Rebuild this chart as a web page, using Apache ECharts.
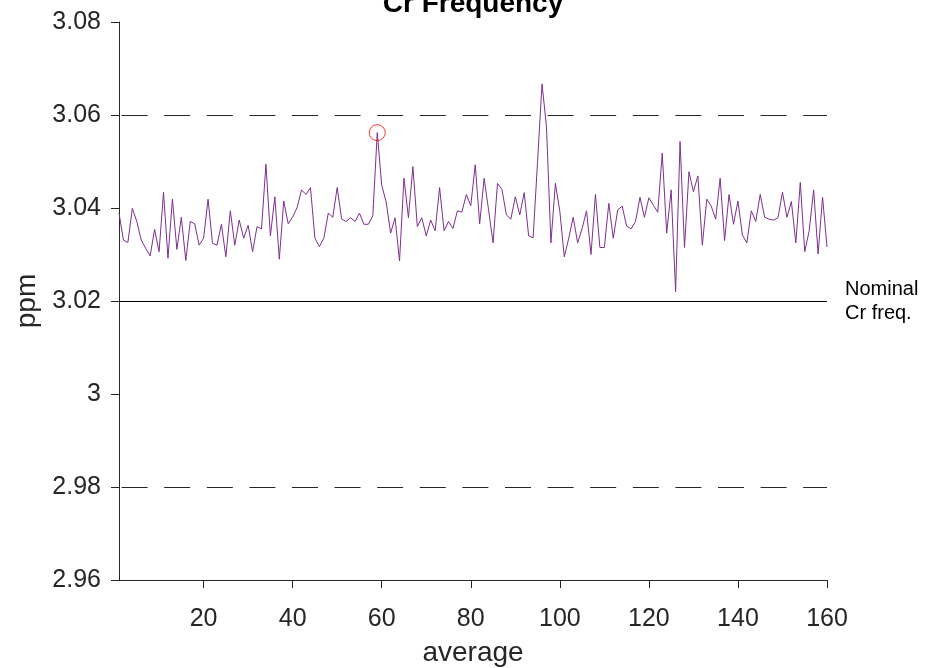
<!DOCTYPE html>
<html>
<head>
<meta charset="utf-8">
<script src="https://cdn.jsdelivr.net/npm/echarts@6/dist/echarts.min.js"></script>
<style>html,body{margin:0;padding:0;background:#fff;}#c{width:928px;height:668px;}</style>
</head>
<body>
<div id="c"></div>
<script>
const titleText = 'Cr Frequency';
const xName = 'average';
const yName = 'ppm';
const xTicks = [20, 40, 60, 80, 100, 120, 140, 160];
const xMin = 1, xMax = 160;
const yMin = 2.96, yMax = 3.08, yStep = 0.02;
const nominal = 3.02;
const nominalLabel = 'Nominal\nCr freq.';
const limits = [3.06, 2.98];
const highlightIndex = 58; // average #59
const ppm = [
3.0389,3.0331,3.0326,3.0399,3.0371,3.0331,3.0313,3.0297,3.0354,3.0306,
3.0434,3.0292,3.0419,3.0311,3.0380,3.0287,3.0371,3.0366,3.0320,3.0335,
3.0419,3.0324,3.0320,3.0365,3.0295,3.0394,3.0320,3.0374,3.0335,3.0363,
3.0306,3.0360,3.0355,3.0494,3.0340,3.0424,3.0290,3.0415,3.0366,3.0381,
3.0401,3.0439,3.0429,3.0444,3.0335,3.0317,3.0335,3.0389,3.0380,3.0444,
3.0376,3.0371,3.0379,3.0371,3.0389,3.0365,3.0365,3.0383,3.0562,3.0449,
3.0413,3.0346,3.0379,3.0286,3.0464,3.0379,3.0489,3.0360,3.0379,3.0340,
3.0374,3.0351,3.0444,3.0351,3.0371,3.0356,3.0394,3.0391,3.0429,3.0405,
3.0493,3.0366,3.0464,3.0396,3.0325,3.0453,3.0440,3.0385,3.0376,3.0424,
3.0385,3.0433,3.0340,3.0336,3.0500,3.0667,3.0575,3.0325,3.0453,3.0393,
3.0295,3.0335,3.0380,3.0325,3.0356,3.0394,3.0300,3.0429,3.0315,3.0315,
3.0410,3.0335,3.0396,3.0404,3.0361,3.0355,3.0371,3.0423,3.0380,3.0422,
3.0406,3.0391,3.0518,3.0346,3.0439,3.0220,3.0543,3.0315,3.0478,3.0435,
3.0469,3.0320,3.0419,3.0404,3.0376,3.0464,3.0330,3.0429,3.0365,3.0415,
3.0342,3.0325,3.0394,3.0371,3.0429,3.0380,3.0376,3.0374,3.0379,3.0434,
3.0380,3.0414,3.0325,3.0455,3.0306,3.0351,3.0439,3.0301,3.0423,3.0316
];

const FONT = '"Liberation Sans", Arial, Helvetica, sans-serif';
const AX = '#262626';
const lineData = ppm.map((v, i) => [i + 1, v]);
const chart = echarts.init(document.getElementById('c'), null, {renderer: 'canvas'});
chart.setOption({
  animation: false,
  backgroundColor: '#fff',
  textStyle: {fontFamily: FONT},
  grid: {left: 119, right: 101, top: 22, bottom: 88, containLabel: false, outerBoundsMode: 'none'},
  graphic: [{
    type: 'text', x: 473, y: -10,
    style: {text: titleText, font: 'bold 28px ' + FONT, fill: '#000', align: 'center', verticalAlign: 'top'}
  }],
  xAxis: {
    type: 'value', min: xMin, max: xMax,
    name: xName, nameLocation: 'middle', nameGap: 59,
    nameTextStyle: {fontSize: 28, color: AX, fontFamily: FONT},
    axisLine: {show: true, onZero: false, lineStyle: {color: AX, width: 1}},
    axisTick: {show: true, inside: false, length: 8, customValues: xTicks, lineStyle: {color: AX}},
    axisLabel: {customValues: xTicks, fontSize: 25, color: AX, margin: 27, fontFamily: FONT},
    splitLine: {show: false}
  },
  yAxis: {
    type: 'value', min: yMin, max: yMax, interval: yStep,
    name: yName, nameLocation: 'middle', nameGap: 66,
    nameTextStyle: {fontSize: 28, color: AX, fontFamily: FONT},
    axisLine: {show: true, onZero: false, lineStyle: {color: AX, width: 1}},
    axisTick: {show: true, inside: false, length: 8, lineStyle: {color: AX}},
    axisLabel: {fontSize: 25, color: AX, margin: 18, fontFamily: FONT,
      formatter: v => String(+v.toFixed(2))},
    splitLine: {show: false}
  },
  series: [{
    type: 'line', data: lineData, showSymbol: false, symbol: 'none',
    lineStyle: {color: '#7E2F8E', width: 1}, itemStyle: {color: '#7E2F8E'},
    z: 3,
    markLine: {
      silent: true, symbol: 'none', animation: false,
      data: [
        {yAxis: nominal, lineStyle: {color: '#000', width: 1, type: 'solid'},
         label: {show: true, position: 'end', distance: 18, formatter: nominalLabel,
           fontSize: 20, lineHeight: 24, color: '#000', align: 'left', fontFamily: FONT}},
        ...limits.map(v => ({yAxis: v, lineStyle: {color: AX, width: 1, type: [26, 16.6], dashOffset: 40},
          label: {show: false}}))
      ]
    }
  }, {
    type: 'scatter', data: [[highlightIndex + 1, ppm[highlightIndex]]],
    symbol: 'circle', symbolSize: 16, z: 4,
    itemStyle: {color: 'rgba(0,0,0,0)', borderColor: '#ff0000', borderWidth: 1}
  }]
});
</script>
</body>
</html>
